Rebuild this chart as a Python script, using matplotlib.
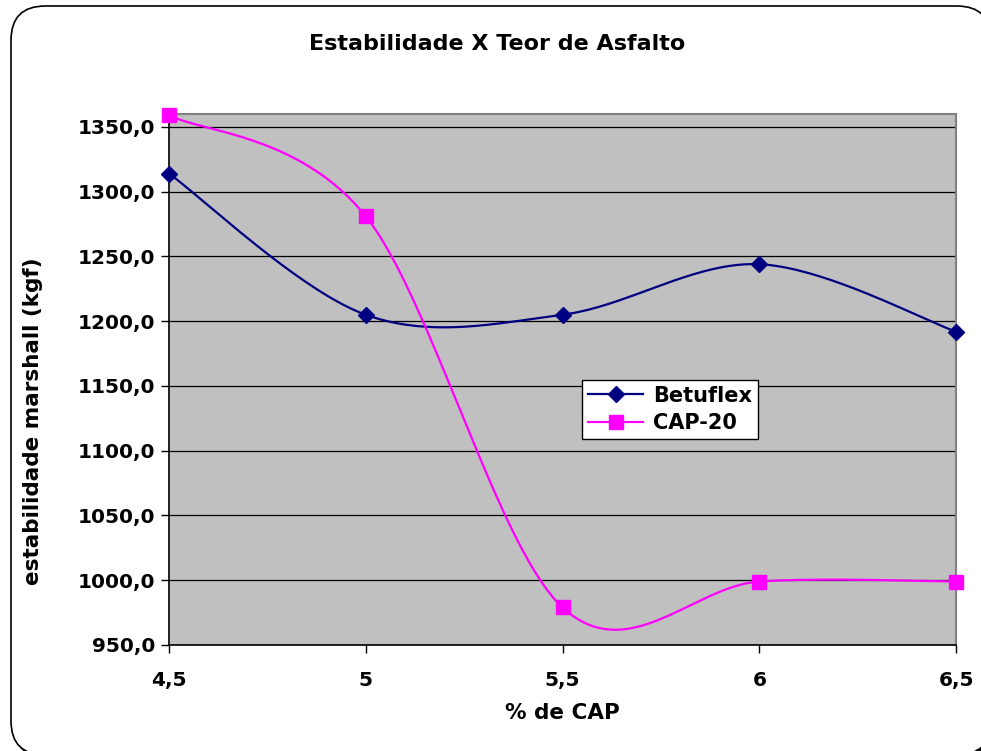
import numpy as np
import matplotlib
matplotlib.use("Agg")
import matplotlib.pyplot as plt
from matplotlib.patches import FancyBboxPatch
from matplotlib.lines import Line2D
import matplotlib.ticker as mticker

# ── Data ──────────────────────────────────────────────────────────────────────
teor_cap = [4.5, 5.0, 5.5, 6.0, 6.5]
betuflex = [1314, 1205, 1205, 1244, 1192]
cap20    = [1359, 1281, 979, 999, 999]
x_ticks  = [4.5, 5.0, 5.5, 6.0, 6.5]
x_labels = ["4,5", "5", "5,5", "6", "6,5"]
y_ticks  = [950, 1000, 1050, 1100, 1150, 1200, 1250, 1300, 1350]

W, H = 981, 751


def smooth(xs, ys, n=40):
    """Catmull-Rom curve through the points (Excel-like smoothed line)."""
    x = np.asarray(xs, float)
    y = np.asarray(ys, float)
    px = np.concatenate([[x[0]], x, [x[-1]]])
    py = np.concatenate([[y[0]], y, [y[-1]]])
    ox, oy = [], []
    t = np.linspace(0, 1, n)
    for i in range(1, len(px) - 2):
        p0, p1, p2, p3 = (np.array([px[j], py[j]]) for j in range(i - 1, i + 3))
        c1 = p1 + (p2 - p0) / 6
        c2 = p2 - (p3 - p1) / 6
        for tt in t:
            b = ((1 - tt) ** 3) * p1 + 3 * ((1 - tt) ** 2) * tt * c1 \
                + 3 * (1 - tt) * tt ** 2 * c2 + tt ** 3 * p2
            ox.append(b[0]); oy.append(b[1])
    return ox, oy


plt.rcParams.update({
    'font.family': 'DejaVu Sans',
    'font.weight': 'bold',
})

fig = plt.figure(figsize=(W / 100, H / 100), dpi=100)
fig.patch.set_facecolor('white')

# Rounded chart frame with shadow
shadow = FancyBboxPatch((15 / W, -8 / H), 980 / W, 749 / H,
                        boxstyle="round,pad=0,rounding_size=0.035",
                        transform=fig.transFigure, facecolor='black',
                        edgecolor='black', zorder=0, mutation_aspect=W / H)
frame = FancyBboxPatch((11 / W, -4 / H), 980 / W, 749 / H,
                       boxstyle="round,pad=0,rounding_size=0.035",
                       transform=fig.transFigure, facecolor='white',
                       edgecolor='black', linewidth=1.2, zorder=1,
                       mutation_aspect=W / H)
fig.patches.extend([shadow, frame])

ax = fig.add_axes([169 / W, 1 - 645 / H, 787 / W, 531 / H])
ax.set_zorder(2)
ax.set_facecolor('#c0c0c0')

ax.yaxis.grid(True, color='black', linewidth=0.9)
ax.set_axisbelow(True)

bx, by = smooth(teor_cap, betuflex)
cx, cy = smooth(teor_cap, cap20)
ax.plot(bx, by, color='#000080', lw=1.6, zorder=3, clip_on=False)
ax.plot(cx, cy, color='#ff00ff', lw=1.6, zorder=3, clip_on=False)
ax.plot(teor_cap, betuflex, ls='none', marker='D', ms=8, color='#000080',
        zorder=4, clip_on=False)
ax.plot(teor_cap, cap20, ls='none', marker='s', ms=10, color='#ff00ff',
        zorder=4, clip_on=False)

ax.set_xlim(4.5, 6.5)
ax.set_ylim(950, 1360)
ax.set_xticks(x_ticks)
ax.set_xticklabels(x_labels)
ax.set_yticks(y_ticks)
ax.yaxis.set_major_formatter(mticker.FuncFormatter(lambda v, _: f'{v:.1f}'.replace('.', ',')))

for s in ['top', 'right']:
    ax.spines[s].set_color('#808080')
    ax.spines[s].set_linewidth(1.5)
for s in ['left', 'bottom']:
    ax.spines[s].set_color('black')
    ax.spines[s].set_linewidth(1.2)

ax.tick_params(axis='both', direction='out', length=6, width=1, colors='black',
               labelsize=14.5)
ax.tick_params(axis='x', pad=13)
ax.tick_params(axis='y', pad=4)

ax.set_xlabel('% de CAP', fontsize=15.5, fontweight='bold', labelpad=9)
ax.set_ylabel('estabilidade marshall (kgf)', fontsize=15.5, fontweight='bold')
ax.yaxis.set_label_coords(-0.173, 0.422)
ax.yaxis.label.set_va('center')

# Legend
handles = [
    Line2D([0], [0], color='#000080', lw=1.6, marker='D', ms=8, label='Betuflex'),
    Line2D([0], [0], color='#ff00ff', lw=1.6, marker='s', ms=10, label='CAP-20'),
]
leg = ax.legend(handles=handles, loc='upper left', bbox_to_anchor=(0.525, 0.50),
                fontsize=15, frameon=True, fancybox=False, edgecolor='black',
                facecolor='white', framealpha=1, borderpad=0.3,
                handlelength=2.6, handletextpad=0.5, labelspacing=0.35,
                borderaxespad=0)
leg.get_frame().set_linewidth(1.0)
for t in leg.get_texts():
    t.set_fontweight('bold')

fig.text(497 / W, 1 - 44 / H, 'Estabilidade X Teor de Asfalto', ha='center',
         va='center', fontsize=16, fontweight='bold')

fig.savefig('out.png', dpi=100)
